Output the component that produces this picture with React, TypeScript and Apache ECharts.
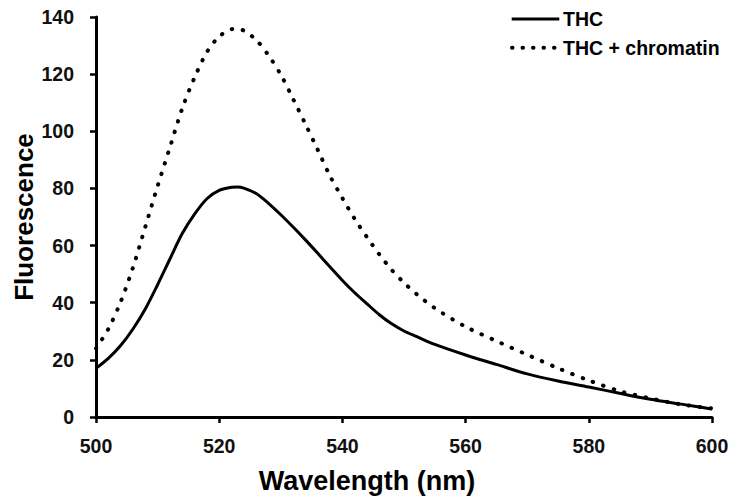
import React, { useEffect, useRef } from "react";
import * as echarts from "echarts";

const wavelengths = [500, 502, 504, 506, 508, 510, 512, 514, 516, 518, 520, 522, 523, 524, 526, 528, 530, 532, 534, 536, 538, 540, 542, 544, 546, 548, 550, 552, 555, 560, 565, 570, 575, 580, 585, 590, 595, 600];
const thc = [17, 20.5, 25, 30.8, 37.8, 46.3, 55.3, 64.2, 71, 76.4, 79.3, 80.4, 80.5, 80.1, 78.2, 74.8, 70.8, 66.5, 62, 57.3, 52.5, 47.8, 43.5, 39.6, 35.8, 32.6, 30.1, 28.2, 25.4, 21.7, 18.4, 15.1, 12.6, 10.5, 8.3, 6.2, 4.5, 2.8];
const thcChromatin = [24, 30.8, 40.3, 52.3, 66.5, 80.8, 94.4, 108, 118.8, 127.7, 133.2, 135.7, 135.9, 135.2, 132, 126.6, 119.8, 111.3, 102.5, 93.5, 84.3, 76.6, 69.3, 62.9, 56.9, 51.5, 47, 43.1, 38.1, 31.6, 26.6, 21.8, 17.1, 12.8, 9.1, 6.5, 4.4, 3];
const seriesNames = ["THC", "THC + chromatin"];
const xTitle = "Wavelength (nm)";
const yTitle = "Fluorescence";

const FONT = "Arial, 'Liberation Sans', sans-serif";

export default function App() {
  const ref = useRef<HTMLDivElement>(null);
  useEffect(() => {
    document.body.style.margin = "0";
    const chart = echarts.init(ref.current!, null, { renderer: "svg" });
    const axisCommon = {
      axisLine: { show: true, lineStyle: { color: "#000", width: 3 } },
      axisTick: { show: true, length: 6, lineStyle: { color: "#000", width: 2.5 } },
      splitLine: { show: false },
      axisLabel: { color: "#111", fontFamily: FONT, fontWeight: "bold" as const, fontSize: 19.5 },
    };
    chart.setOption({
      animation: false,
      backgroundColor: "#fff",
      grid: { left: 96, right: 25, top: 17, bottom: 86, containLabel: false },
      xAxis: {
        type: "value",
        min: 500,
        max: 600,
        interval: 20,
        ...axisCommon,
        axisLabel: { ...axisCommon.axisLabel, margin: 19 },
      },
      yAxis: {
        type: "value",
        min: 0,
        max: 140,
        interval: 20,
        ...axisCommon,
        axisLabel: { ...axisCommon.axisLabel, margin: 22 },
      },
      series: [
        {
          name: seriesNames[0],
          type: "line",
          data: wavelengths.map((w, i) => [w, thc[i]]),
          smooth: 0.3,
          symbol: "none",
          lineStyle: { color: "#000", width: 3, join: "round" },
        },
        {
          name: seriesNames[1],
          type: "line",
          data: wavelengths.map((w, i) => [w, thcChromatin[i]]),
          smooth: 0.3,
          symbol: "none",
          lineStyle: { color: "#000", width: 4, type: [0.5, 10.5], cap: "round", join: "round" },
        },
      ],
      graphic: [
        {
          type: "text",
          x: 24,
          y: 217,
          rotation: Math.PI / 2,
          style: {
            text: yTitle,
            fill: "#000",
            font: `bold 26px ${FONT}`,
            align: "center",
            verticalAlign: "middle",
          },
        },
        {
          type: "text",
          x: 367,
          y: 481,
          style: {
            text: xTitle,
            fill: "#000",
            font: `bold 27px ${FONT}`,
            align: "center",
            verticalAlign: "middle",
          },
        },
        {
          type: "line",
          shape: { x1: 511.7, y1: 19, x2: 559.3, y2: 19 },
          style: { stroke: "#000", lineWidth: 3 },
        },
        {
          type: "text",
          x: 563,
          y: 19,
          style: {
            text: seriesNames[0],
            fill: "#000",
            font: `bold 19.5px ${FONT}`,
            align: "left",
            verticalAlign: "middle",
          },
        },
        {
          type: "line",
          shape: { x1: 512, y1: 47.7, x2: 556, y2: 47.7 },
          style: { stroke: "#000", lineWidth: 4, lineDash: [0.5, 10], lineCap: "round" },
        },
        {
          type: "text",
          x: 563,
          y: 48,
          style: {
            text: seriesNames[1],
            fill: "#000",
            font: `bold 19.5px ${FONT}`,
            align: "left",
            verticalAlign: "middle",
          },
        },
      ],
    });
    return () => chart.dispose();
  }, []);
  return <div ref={ref} style={{ width: 737, height: 503 }} />;
}
